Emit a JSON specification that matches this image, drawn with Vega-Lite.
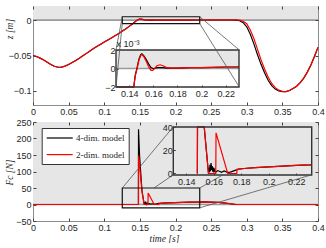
{
  "$schema": "https://vega.github.io/schema/vega-lite/v6.json",
  "background": "white",
  "padding": {"left": 3, "top": 5, "right": 0, "bottom": 0},
  "bounds": "flush",
  "spacing": 17,
  "config": {
    "view": {"stroke": "#8c8c8c", "strokeWidth": 1},
    "axis": {
      "labelFont": "Liberation Sans", "labelFontSize": 9, "labelColor": "#262626",
      "tickColor": "#444444", "tickSize": -3, "labelPadding": 5, "grid": false, "domain": false,
      "labelOverlap": false, "labelFlush": false, "zindex": 1,
      "titleFont": "Liberation Serif", "titleFontStyle": "italic", "titleFontWeight": "normal",
      "titleFontSize": 9.5, "titleColor": "#262626"
    },
    "legend": {"labelColor": "#262626"}
  },
  "datasets": {
    "z": [
      {"t":0,"model":"2-dim. model","z":-0.05},{"t":0.005,"model":"2-dim. model","z":-0.0515},{"t":0.01,"model":"2-dim. model","z":-0.0537},{"t":0.015,"model":"2-dim. model","z":-0.0565},{"t":0.02,"model":"2-dim. model","z":-0.0596},{"t":0.025,"model":"2-dim. model","z":-0.0627},{"t":0.03,"model":"2-dim. model","z":-0.0652},{"t":0.035,"model":"2-dim. model","z":-0.0666},{"t":0.04,"model":"2-dim. model","z":-0.0664},{"t":0.045,"model":"2-dim. model","z":-0.065},{"t":0.05,"model":"2-dim. model","z":-0.0627},{"t":0.055,"model":"2-dim. model","z":-0.06},{"t":0.06,"model":"2-dim. model","z":-0.0572},{"t":0.065,"model":"2-dim. model","z":-0.054},{"t":0.07,"model":"2-dim. model","z":-0.0505},{"t":0.075,"model":"2-dim. model","z":-0.047},{"t":0.08,"model":"2-dim. model","z":-0.0435},{"t":0.085,"model":"2-dim. model","z":-0.0402},{"t":0.09,"model":"2-dim. model","z":-0.037},{"t":0.095,"model":"2-dim. model","z":-0.034},{"t":0.1,"model":"2-dim. model","z":-0.031},{"t":0.105,"model":"2-dim. model","z":-0.0281},{"t":0.11,"model":"2-dim. model","z":-0.0252},{"t":0.115,"model":"2-dim. model","z":-0.0222},{"t":0.12,"model":"2-dim. model","z":-0.0191},{"t":0.125,"model":"2-dim. model","z":-0.0158},{"t":0.13,"model":"2-dim. model","z":-0.0124},{"t":0.135,"model":"2-dim. model","z":-0.0088},{"t":0.14,"model":"2-dim. model","z":-0.005},{"t":0.142,"model":"2-dim. model","z":-0.0034},{"t":0.1437,"model":"2-dim. model","z":-0.002},{"t":0.145,"model":"2-dim. model","z":-0.0008},{"t":0.1465,"model":"2-dim. model","z":0},{"t":0.148,"model":"2-dim. model","z":0.0009},{"t":0.1495,"model":"2-dim. model","z":0.0014},{"t":0.1505,"model":"2-dim. model","z":0.0015},{"t":0.152,"model":"2-dim. model","z":0.0013},{"t":0.154,"model":"2-dim. model","z":0.0008},{"t":0.156,"model":"2-dim. model","z":0.0002},{"t":0.158,"model":"2-dim. model","z":-0.0002},{"t":0.1595,"model":"2-dim. model","z":-0.0002},{"t":0.161,"model":"2-dim. model","z":0},{"t":0.163,"model":"2-dim. model","z":0.0003},{"t":0.1655,"model":"2-dim. model","z":0.0004},{"t":0.168,"model":"2-dim. model","z":0.0003},{"t":0.171,"model":"2-dim. model","z":0.0001},{"t":0.175,"model":"2-dim. model","z":0.00005},{"t":0.18,"model":"2-dim. model","z":0.00005},{"t":0.19,"model":"2-dim. model","z":0.0001},{"t":0.2,"model":"2-dim. model","z":0.0001},{"t":0.21,"model":"2-dim. model","z":0.00013},{"t":0.22,"model":"2-dim. model","z":0.00016},{"t":0.23,"model":"2-dim. model","z":0.00018},{"t":0.24,"model":"2-dim. model","z":0.0002},{"t":0.25,"model":"2-dim. model","z":0.0002},{"t":0.26,"model":"2-dim. model","z":0.0002},{"t":0.27,"model":"2-dim. model","z":0.0002},{"t":0.28,"model":"2-dim. model","z":0.0002},{"t":0.285,"model":"2-dim. model","z":0.0002},{"t":0.29,"model":"2-dim. model","z":0},{"t":0.295,"model":"2-dim. model","z":-0.0015},{"t":0.3,"model":"2-dim. model","z":-0.005},{"t":0.305,"model":"2-dim. model","z":-0.014},{"t":0.31,"model":"2-dim. model","z":-0.026},{"t":0.315,"model":"2-dim. model","z":-0.041},{"t":0.32,"model":"2-dim. model","z":-0.056},{"t":0.325,"model":"2-dim. model","z":-0.069},{"t":0.33,"model":"2-dim. model","z":-0.0805},{"t":0.335,"model":"2-dim. model","z":-0.0895},{"t":0.34,"model":"2-dim. model","z":-0.0955},{"t":0.345,"model":"2-dim. model","z":-0.099},{"t":0.35,"model":"2-dim. model","z":-0.1008},{"t":0.355,"model":"2-dim. model","z":-0.101},{"t":0.36,"model":"2-dim. model","z":-0.0995},{"t":0.365,"model":"2-dim. model","z":-0.0968},{"t":0.37,"model":"2-dim. model","z":-0.0935},{"t":0.375,"model":"2-dim. model","z":-0.0885},{"t":0.38,"model":"2-dim. model","z":-0.082},{"t":0.385,"model":"2-dim. model","z":-0.0735},{"t":0.39,"model":"2-dim. model","z":-0.0635},{"t":0.395,"model":"2-dim. model","z":-0.0515},{"t":0.4,"model":"2-dim. model","z":-0.0385},
      {"t":0,"model":"4-dim. model","z":-0.05},{"t":0.005,"model":"4-dim. model","z":-0.0515},{"t":0.01,"model":"4-dim. model","z":-0.0537},{"t":0.015,"model":"4-dim. model","z":-0.0565},{"t":0.02,"model":"4-dim. model","z":-0.0596},{"t":0.025,"model":"4-dim. model","z":-0.0627},{"t":0.03,"model":"4-dim. model","z":-0.0652},{"t":0.035,"model":"4-dim. model","z":-0.0666},{"t":0.04,"model":"4-dim. model","z":-0.0664},{"t":0.045,"model":"4-dim. model","z":-0.065},{"t":0.05,"model":"4-dim. model","z":-0.0627},{"t":0.055,"model":"4-dim. model","z":-0.06},{"t":0.06,"model":"4-dim. model","z":-0.0572},{"t":0.065,"model":"4-dim. model","z":-0.054},{"t":0.07,"model":"4-dim. model","z":-0.0505},{"t":0.075,"model":"4-dim. model","z":-0.047},{"t":0.08,"model":"4-dim. model","z":-0.0435},{"t":0.085,"model":"4-dim. model","z":-0.0402},{"t":0.09,"model":"4-dim. model","z":-0.037},{"t":0.095,"model":"4-dim. model","z":-0.034},{"t":0.1,"model":"4-dim. model","z":-0.031},{"t":0.105,"model":"4-dim. model","z":-0.0281},{"t":0.11,"model":"4-dim. model","z":-0.0252},{"t":0.115,"model":"4-dim. model","z":-0.0222},{"t":0.12,"model":"4-dim. model","z":-0.0191},{"t":0.125,"model":"4-dim. model","z":-0.0158},{"t":0.13,"model":"4-dim. model","z":-0.0124},{"t":0.135,"model":"4-dim. model","z":-0.0088},{"t":0.14,"model":"4-dim. model","z":-0.005},{"t":0.142,"model":"4-dim. model","z":-0.0034},{"t":0.1437,"model":"4-dim. model","z":-0.002},{"t":0.145,"model":"4-dim. model","z":-0.0007},{"t":0.1465,"model":"4-dim. model","z":0.0001},{"t":0.148,"model":"4-dim. model","z":0.001},{"t":0.1495,"model":"4-dim. model","z":0.0015},{"t":0.1505,"model":"4-dim. model","z":0.0016},{"t":0.152,"model":"4-dim. model","z":0.0014},{"t":0.154,"model":"4-dim. model","z":0.001},{"t":0.156,"model":"4-dim. model","z":0.0005},{"t":0.158,"model":"4-dim. model","z":0.0001},{"t":0.1595,"model":"4-dim. model","z":0},{"t":0.161,"model":"4-dim. model","z":0},{"t":0.163,"model":"4-dim. model","z":0.0001},{"t":0.1655,"model":"4-dim. model","z":0.0001},{"t":0.168,"model":"4-dim. model","z":0.0001},{"t":0.171,"model":"4-dim. model","z":0.00005},{"t":0.175,"model":"4-dim. model","z":0.00005},{"t":0.18,"model":"4-dim. model","z":0.00005},{"t":0.19,"model":"4-dim. model","z":0.0001},{"t":0.2,"model":"4-dim. model","z":0.0001},{"t":0.21,"model":"4-dim. model","z":0.00013},{"t":0.22,"model":"4-dim. model","z":0.00016},{"t":0.23,"model":"4-dim. model","z":0.00018},{"t":0.24,"model":"4-dim. model","z":0.0002},{"t":0.25,"model":"4-dim. model","z":0.0002},{"t":0.26,"model":"4-dim. model","z":0.0002},{"t":0.27,"model":"4-dim. model","z":0.0002},{"t":0.28,"model":"4-dim. model","z":0.0002},{"t":0.285,"model":"4-dim. model","z":0.0001},{"t":0.29,"model":"4-dim. model","z":-0.0008},{"t":0.295,"model":"4-dim. model","z":-0.0035},{"t":0.3,"model":"4-dim. model","z":-0.0095},{"t":0.305,"model":"4-dim. model","z":-0.02},{"t":0.31,"model":"4-dim. model","z":-0.0335},{"t":0.315,"model":"4-dim. model","z":-0.0485},{"t":0.32,"model":"4-dim. model","z":-0.0625},{"t":0.325,"model":"4-dim. model","z":-0.0745},{"t":0.33,"model":"4-dim. model","z":-0.085},{"t":0.335,"model":"4-dim. model","z":-0.0925},{"t":0.34,"model":"4-dim. model","z":-0.0975},{"t":0.345,"model":"4-dim. model","z":-0.1002},{"t":0.35,"model":"4-dim. model","z":-0.1012},{"t":0.355,"model":"4-dim. model","z":-0.101},{"t":0.36,"model":"4-dim. model","z":-0.0995},{"t":0.365,"model":"4-dim. model","z":-0.0968},{"t":0.37,"model":"4-dim. model","z":-0.0935},{"t":0.375,"model":"4-dim. model","z":-0.0885},{"t":0.38,"model":"4-dim. model","z":-0.082},{"t":0.385,"model":"4-dim. model","z":-0.0735},{"t":0.39,"model":"4-dim. model","z":-0.0635},{"t":0.395,"model":"4-dim. model","z":-0.0515},{"t":0.4,"model":"4-dim. model","z":-0.0385}
    ],
    "F": [
      {"t":0,"model":"2-dim. model","F":0},{"t":0.148,"model":"2-dim. model","F":0},{"t":0.1481,"model":"2-dim. model","F":148},{"t":0.153,"model":"2-dim. model","F":40},{"t":0.1561,"model":"2-dim. model","F":0},{"t":0.1614,"model":"2-dim. model","F":0},{"t":0.1616,"model":"2-dim. model","F":35},{"t":0.1701,"model":"2-dim. model","F":0},{"t":0.1767,"model":"2-dim. model","F":0},{"t":0.1768,"model":"2-dim. model","F":3.6},{"t":0.182,"model":"2-dim. model","F":4.3},{"t":0.19,"model":"2-dim. model","F":5},{"t":0.2,"model":"2-dim. model","F":5.7},{"t":0.21,"model":"2-dim. model","F":6.3},{"t":0.22,"model":"2-dim. model","F":6.9},{"t":0.23,"model":"2-dim. model","F":7.4},{"t":0.24,"model":"2-dim. model","F":7.7},{"t":0.25,"model":"2-dim. model","F":7.4},{"t":0.26,"model":"2-dim. model","F":6.2},{"t":0.27,"model":"2-dim. model","F":4},{"t":0.28,"model":"2-dim. model","F":1.5},{"t":0.285,"model":"2-dim. model","F":0},{"t":0.4,"model":"2-dim. model","F":0},
      {"t":0,"model":"4-dim. model","F":0},{"t":0.148,"model":"4-dim. model","F":0},{"t":0.1481,"model":"4-dim. model","F":228},{"t":0.1495,"model":"4-dim. model","F":150},{"t":0.153,"model":"4-dim. model","F":40},{"t":0.1561,"model":"4-dim. model","F":0},{"t":0.1564,"model":"4-dim. model","F":5},{"t":0.1568,"model":"4-dim. model","F":1},{"t":0.1572,"model":"4-dim. model","F":7.5},{"t":0.1576,"model":"4-dim. model","F":2},{"t":0.158,"model":"4-dim. model","F":9},{"t":0.1584,"model":"4-dim. model","F":3},{"t":0.1588,"model":"4-dim. model","F":6.5},{"t":0.1592,"model":"4-dim. model","F":1.5},{"t":0.1596,"model":"4-dim. model","F":5},{"t":0.16,"model":"4-dim. model","F":1},{"t":0.1606,"model":"4-dim. model","F":3.5},{"t":0.1612,"model":"4-dim. model","F":1},{"t":0.163,"model":"4-dim. model","F":2.5},{"t":0.1655,"model":"4-dim. model","F":1},{"t":0.1675,"model":"4-dim. model","F":2.2},{"t":0.17,"model":"4-dim. model","F":1},{"t":0.172,"model":"4-dim. model","F":1.2},{"t":0.175,"model":"4-dim. model","F":2.5},{"t":0.178,"model":"4-dim. model","F":3.8},{"t":0.182,"model":"4-dim. model","F":4.3},{"t":0.19,"model":"4-dim. model","F":5},{"t":0.2,"model":"4-dim. model","F":5.7},{"t":0.21,"model":"4-dim. model","F":6.3},{"t":0.22,"model":"4-dim. model","F":6.9},{"t":0.23,"model":"4-dim. model","F":7.4},{"t":0.24,"model":"4-dim. model","F":7.7},{"t":0.25,"model":"4-dim. model","F":7.4},{"t":0.26,"model":"4-dim. model","F":6.2},{"t":0.27,"model":"4-dim. model","F":4},{"t":0.28,"model":"4-dim. model","F":1.5},{"t":0.285,"model":"4-dim. model","F":0},{"t":0.4,"model":"4-dim. model","F":0}
    ],
    "zWindow": [{"t0":0.1253,"t1":0.234,"v0":-0.005,"v1":0.0048}],
    "zLinks": [
      {"t0":0.1253,"v0":0.0048,"t1":0.1165,"v1":-0.0422},
      {"t0":0.1253,"v0":-0.005,"t1":0.1165,"v1":-0.0945},
      {"t0":0.234,"v0":0.0048,"t1":0.2895,"v1":-0.0422},
      {"t0":0.234,"v0":-0.005,"t1":0.2895,"v1":-0.0945}
    ],
    "FWindow": [{"t0":0.1253,"t1":0.234,"v0":-10,"v1":50}],
    "FLinks": [
      {"t0":0.1253,"v0":50,"t1":0.1969,"v1":235.5},
      {"t0":0.1698,"v0":50,"t1":0.1969,"v1":90},
      {"t0":0.234,"v0":50,"t1":0.2667,"v1":90},
      {"t0":0.234,"v0":-10,"t1":0.3912,"v1":90}
    ]
  },
  "vconcat": [
    {
      "width": 285, "height": 99,
      "resolve": {"scale": {"x": "independent", "y": "independent"}},
      "layer": [
        {
          "layer": [
            {
              "data": {"values": [{}]},
              "mark": {"type": "rect", "color": "#e6e6e6"},
              "encoding": {
                "x": {"datum": 0, "type": "quantitative", "scale": {"domain": [0, 0.4], "nice": false, "zero": false},
                      "axis": {"values": [0,0.05,0.1,0.15,0.2,0.25,0.3,0.35,0.4], "tickCount": 50, "format": ".2~f", "title": null, "labelOverlap": false, "zindex": 1}},
                "x2": {"datum": 0.4},
                "y": {"datum": 0, "type": "quantitative", "scale": {"domain": [-0.12, 0.02], "nice": false, "zero": false},
                      "axis": {"values": [-0.1,-0.05,0], "tickCount": 50, "format": ".2~f", "labelOverlap": false, "zindex": 1, "title": "z [m]", "titleX": -24, "titleY": 22.5, "titleAngle": -90, "titleAlign": "center", "titleBaseline": "middle"}},
                "y2": {"datum": 0.02}
              }
            },
            {
              "data": {"values": [{}]},
              "mark": {"type": "rule", "color": "#9a9a9a", "strokeWidth": 1.6},
              "encoding": {"y": {"datum": 0, "type": "quantitative"}}
            },
            {
              "data": {"name": "z"},
              "transform": [{"filter": {"field": "model", "equal": "4-dim. model"}}],
              "mark": {"type": "line", "color": "black", "strokeWidth": 1.2},
              "encoding": {"x": {"field": "t", "type": "quantitative"}, "y": {"field": "z", "type": "quantitative"}}
            },
            {
              "data": {"name": "z"},
              "transform": [{"filter": {"field": "model", "equal": "2-dim. model"}}],
              "mark": {"type": "line", "color": "#ff0000", "strokeWidth": 1.2},
              "encoding": {"x": {"field": "t", "type": "quantitative"}, "y": {"field": "z", "type": "quantitative"}}
            }
          ]
        },
        {
          "layer": [
            {
              "data": {"values": [{}]},
              "mark": {"type": "rect", "color": "#e6e6e6"},
              "encoding": {
                "x": {"datum": 0.129, "type": "quantitative", "scale": {"domain": [0.129, 0.231], "range": [83, 206], "clamp": true, "nice": false, "zero": false},
                      "axis": {"orient": "bottom", "offset": -18, "values": [0.14,0.16,0.18,0.2,0.22], "tickCount": 50, "format": ".2~f", "title": null, "tickSize": -2, "labelPadding": 4, "labelOverlap": false, "zindex": 1}},
                "x2": {"datum": 0.231},
                "y": {"datum": 0, "type": "quantitative", "scale": {"domain": [-0.002, 0.002], "range": [81, 44], "clamp": true, "nice": false, "zero": false},
                      "axis": {"orient": "left", "offset": -83, "values": [-0.002, 0, 0.002], "tickCount": 50, "labelExpr": "format(datum.value*1000, '.0f')", "tickSize": -2, "labelPadding": 3, "labelOverlap": false, "zindex": 1,
                               "title": "x 10⁻³", "titleAngle": 0, "titleAlign": "left", "titleBaseline": "alphabetic", "titleX": 0, "titleY": 40.5,
                               "titleFont": "Liberation Sans", "titleFontStyle": "normal", "titleFontSize": 9}},
                "y2": {"datum": 0.002}
              }
            },
            {
              "data": {"values": [{}]},
              "mark": {"type": "rule", "color": "#9a9a9a", "strokeWidth": 1.6},
              "encoding": {"x": {"datum": 0.129, "type": "quantitative"}, "x2": {"datum": 0.231}, "y": {"datum": 0, "type": "quantitative"}}
            },
            {
              "data": {"name": "z"},
              "transform": [{"filter": {"field": "model", "equal": "4-dim. model"}}, {"filter": "datum.t >= 0.12 && datum.t <= 0.24"}],
              "mark": {"type": "line", "color": "black", "strokeWidth": 1.2},
              "encoding": {"x": {"field": "t", "type": "quantitative"}, "y": {"field": "z", "type": "quantitative"}}
            },
            {
              "data": {"name": "z"},
              "transform": [{"filter": {"field": "model", "equal": "2-dim. model"}}, {"filter": "datum.t >= 0.12 && datum.t <= 0.24"}],
              "mark": {"type": "line", "color": "#ff0000", "strokeWidth": 1.2},
              "encoding": {"x": {"field": "t", "type": "quantitative"}, "y": {"field": "z", "type": "quantitative"}}
            },
            {
              "data": {"values": [{}]},
              "mark": {"type": "rect", "fill": null, "fillOpacity": 0, "stroke": "#333333", "strokeWidth": 1.4},
              "encoding": {"x": {"datum": 0.129, "type": "quantitative"}, "x2": {"datum": 0.231}, "y": {"datum": -0.002, "type": "quantitative"}, "y2": {"datum": 0.002}}
            }
          ]
        },
        {
          "layer": [
            {
              "data": {"name": "zWindow"},
              "mark": {"type": "rect", "fill": null, "fillOpacity": 0, "stroke": "#111111", "strokeWidth": 1.2},
              "encoding": {
                "x": {"field": "t0", "type": "quantitative", "scale": {"domain": [0, 0.4], "nice": false, "zero": false},
                      "axis": {"orient": "top", "values": [0,0.05,0.1,0.15,0.2,0.25,0.3,0.35,0.4], "tickCount": 50, "labels": false, "title": null, "zindex": 1}},
                "x2": {"field": "t1"},
                "y": {"field": "v0", "type": "quantitative", "scale": {"domain": [-0.12, 0.02], "nice": false, "zero": false},
                      "axis": {"orient": "right", "values": [-0.1,-0.05,0], "tickCount": 50, "labels": false, "title": null, "zindex": 1}},
                "y2": {"field": "v1"}
              }
            },
            {
              "data": {"name": "zLinks"},
              "mark": {"type": "rule", "color": "#555555", "strokeWidth": 0.8},
              "encoding": {
                "x": {"field": "t0", "type": "quantitative"},
                "x2": {"field": "t1"},
                "y": {"field": "v0", "type": "quantitative"},
                "y2": {"field": "v1"}
              }
            }
          ]
        }
      ]
    },
    {
      "width": 285, "height": 99,
      "resolve": {"scale": {"x": "independent", "y": "independent"}},
      "layer": [
        {
          "layer": [
            {
              "data": {"values": [{}]},
              "mark": {"type": "rect", "color": "#e6e6e6"},
              "encoding": {
                "x": {"datum": 0, "type": "quantitative", "scale": {"domain": [0, 0.4], "nice": false, "zero": false},
                      "axis": {"values": [0,0.05,0.1,0.15,0.2,0.25,0.3,0.35,0.4], "tickCount": 50, "format": ".2~f", "labelOverlap": false, "zindex": 1, "title": "time [s]", "titleX": 131, "titleY": 17, "titleBaseline": "middle", "titleAlign": "center"}},
                "x2": {"datum": 0.4},
                "y": {"datum": 0, "type": "quantitative", "scale": {"domain": [-50, 250], "nice": false, "zero": false},
                      "axis": {"values": [-50,0,50,100,150,200,250], "tickCount": 50, "labelOverlap": false, "zindex": 1, "title": "Fc [N]", "titleX": -24, "titleY": 50, "titleAngle": -90, "titleAlign": "center", "titleBaseline": "middle"}},
                "y2": {"datum": 250}
              }
            },
            {
              "data": {"values": [{}]},
              "mark": {"type": "rule", "color": "#9a9a9a", "strokeWidth": 1.6},
              "encoding": {"y": {"datum": 0, "type": "quantitative"}}
            },
            {
              "data": {"name": "F"},
              "transform": [{"filter": {"field": "model", "equal": "4-dim. model"}}],
              "mark": {"type": "line", "strokeWidth": 1.2},
              "encoding": {
                "x": {"field": "t", "type": "quantitative"},
                "y": {"field": "F", "type": "quantitative"},
                "color": {"datum": "4-dim. model", "type": "nominal",
                          "scale": {"domain": ["4-dim. model", "2-dim. model"], "range": ["#000000", "#ff0000"]},
                          "legend": {"orient": "none", "legendX": 8.7, "legendY": 122, "title": null, "fillColor": "white", "strokeColor": "#333333",
                                     "padding": 4, "symbolType": "M-1,0H4.2", "symbolSize": 100, "symbolStrokeWidth": 1.2,
                                     "labelFont": "Liberation Serif", "labelFontSize": 9, "labelOffset": 18.3, "rowPadding": 5.6}}
              }
            },
            {
              "data": {"name": "F"},
              "transform": [{"filter": {"field": "model", "equal": "2-dim. model"}}],
              "mark": {"type": "line", "strokeWidth": 1.2},
              "encoding": {
                "x": {"field": "t", "type": "quantitative"},
                "y": {"field": "F", "type": "quantitative"},
                "color": {"datum": "2-dim. model", "type": "nominal"}
              }
            }
          ]
        },
        {
          "layer": [
            {
              "data": {"values": [{}]},
              "mark": {"type": "rect", "color": "#e6e6e6"},
              "encoding": {
                "x": {"datum": 0.1305, "type": "quantitative", "scale": {"domain": [0.1305, 0.2312], "range": [140.3, 278.7], "clamp": true, "nice": false, "zero": false},
                      "axis": {"orient": "bottom", "offset": -46, "values": [0.14,0.16,0.18,0.2,0.22], "tickCount": 50, "format": ".2~f", "title": null, "tickSize": -2, "labelPadding": 4, "labelOverlap": false, "zindex": 1}},
                "x2": {"datum": 0.2312},
                "y": {"datum": -1.3, "type": "quantitative", "scale": {"domain": [-1.3, 40], "range": [53, 5], "clamp": true, "nice": false, "zero": false},
                      "axis": {"orient": "left", "offset": -140.3, "values": [0, 20, 40], "tickCount": 50, "tickSize": -2, "labelPadding": 3, "labelOverlap": false, "zindex": 1, "title": null}},
                "y2": {"datum": 40}
              }
            },
            {
              "data": {"name": "F"},
              "transform": [{"filter": {"field": "model", "equal": "4-dim. model"}}, {"filter": "datum.t >= 0.12 && datum.t <= 0.24"}],
              "mark": {"type": "line", "color": "black", "strokeWidth": 1.2},
              "encoding": {"x": {"field": "t", "type": "quantitative"}, "y": {"field": "F", "type": "quantitative"}}
            },
            {
              "data": {"name": "F"},
              "transform": [{"filter": {"field": "model", "equal": "2-dim. model"}}, {"filter": "datum.t >= 0.12 && datum.t <= 0.24"}],
              "mark": {"type": "line", "color": "#ff0000", "strokeWidth": 1.2},
              "encoding": {"x": {"field": "t", "type": "quantitative"}, "y": {"field": "F", "type": "quantitative"}}
            },
            {
              "data": {"values": [{}]},
              "mark": {"type": "rect", "fill": null, "fillOpacity": 0, "stroke": "#333333", "strokeWidth": 1.4},
              "encoding": {"x": {"datum": 0.1305, "type": "quantitative"}, "x2": {"datum": 0.2312}, "y": {"datum": -1.3, "type": "quantitative"}, "y2": {"datum": 40}}
            }
          ]
        },
        {
          "layer": [
            {
              "data": {"name": "FWindow"},
              "mark": {"type": "rect", "fill": null, "fillOpacity": 0, "stroke": "#111111", "strokeWidth": 1.2},
              "encoding": {
                "x": {"field": "t0", "type": "quantitative", "scale": {"domain": [0, 0.4], "nice": false, "zero": false},
                      "axis": {"orient": "top", "values": [0,0.05,0.1,0.15,0.2,0.25,0.3,0.35,0.4], "tickCount": 50, "labels": false, "title": null, "zindex": 1}},
                "x2": {"field": "t1"},
                "y": {"field": "v0", "type": "quantitative", "scale": {"domain": [-50, 250], "nice": false, "zero": false},
                      "axis": {"orient": "right", "values": [-50,0,50,100,150,200,250], "tickCount": 50, "labels": false, "title": null, "zindex": 1}},
                "y2": {"field": "v1"}
              }
            },
            {
              "data": {"name": "FLinks"},
              "mark": {"type": "rule", "color": "#555555", "strokeWidth": 0.8},
              "encoding": {
                "x": {"field": "t0", "type": "quantitative"},
                "x2": {"field": "t1"},
                "y": {"field": "v0", "type": "quantitative"},
                "y2": {"field": "v1"}
              }
            }
          ]
        }
      ]
    }
  ]
}
